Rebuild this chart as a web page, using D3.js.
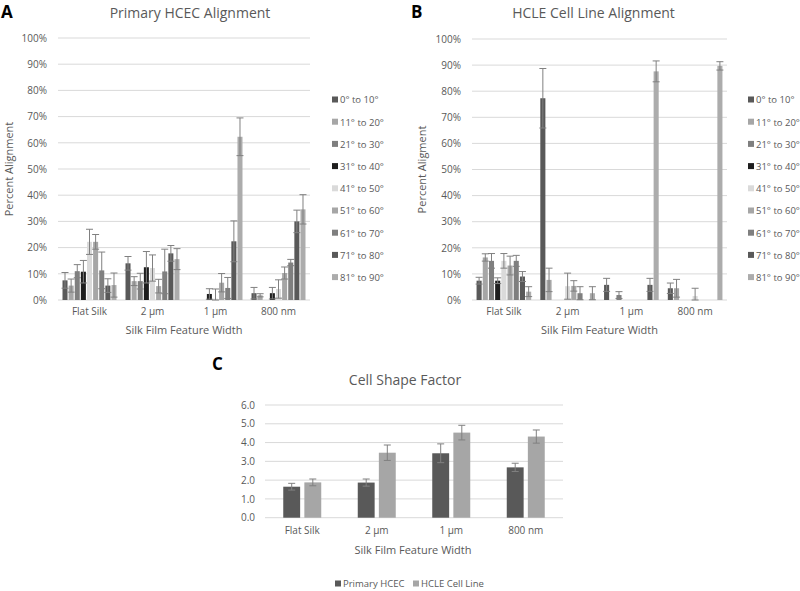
<!DOCTYPE html>
<html>
<head>
<meta charset="utf-8">
<script src="https://cdn.jsdelivr.net/npm/d3@7"></script>
<style>
  body { margin: 0; background: #fff; }
  text { font-family: "Open Sans", "Noto Sans", sans-serif; }
</style>
</head>
<body>
<div id="chart"></div>
<script>
// DATA
const categories = ["Flat Silk", "2 µm", "1 µm", "800 nm"];
const angleSeries = ["0° to 10°", "11° to 20°", "21° to 30°", "31° to 40°", "41° to 50°",
  "51° to 60°", "61° to 70°", "71° to 80°", "81° to 90°"];
const angleColors = ["#595959", "#a6a6a6", "#7f7f7f", "#1e1e1e", "#dadada",
  "#a6a6a6", "#7f7f7f", "#595959", "#acacac"];
const pctTicks = [0, 10, 20, 30, 40, 50, 60, 70, 80, 90, 100];

// primary HCEC, percent per category (rows) and angle bin (cols)
const hcecMeans = [
  [7.5, 5.5, 11, 10.8, 22.2, 22.2, 11.3, 5.5, 5.7],
  [14, 7.2, 7.2, 12.5, 12.2, 5.3, 10.9, 17.8, 15.6],
  [0, 0, 0, 2.3, 0.5, 6.6, 4.6, 22.4, 62.3],
  [2.6, 1.8, 0, 2.6, 4.2, 10.3, 14.3, 30, 34.6]
];
const hcecErr = [
  [3, 2.5, 2.5, 4.3, 4.8, 2.8, 7, 2.6, 4.6],
  [2.6, 1.7, 3, 6, 5, 2.6, 8.5, 3, 4],
  [0, 0, 0, 2, 3.7, 3.5, 4, 7.8, 7.2],
  [2.2, 0.6, 0, 2.2, 3.5, 2.3, 1.2, 4.3, 5.6]
];

// HCLE cell line
const hcleMeans = [
  [7.4, 16.3, 15, 7.4, 15, 13.2, 15, 9, 3.2],
  [77.3, 7.7, 0, 0, 5.3, 5.4, 2.6, 0, 2.6],
  [5.8, 0, 1.9, 0, 0, 0, 0, 5.8, 87.6],
  [4.5, 4.5, 0, 0, 1.5, 0, 0, 0, 89.7]
];
const hcleErr = [
  [1.3, 1.4, 2.8, 1.1, 2.8, 3.6, 2.1, 1.9, 1.9],
  [11.4, 4.5, 0, 0, 5, 2, 2.5, 0, 2.5],
  [2.5, 0, 1.3, 0, 0, 0, 0, 2.5, 4],
  [2, 3.4, 0, 0, 3, 0, 0, 0, 1.6]
];

// cell shape factor
const shapeSeries = ["Primary HCEC", "HCLE Cell Line"];
const shapeColors = ["#595959", "#a6a6a6"];
const shapeTicks = [0, 1, 2, 3, 4, 5, 6];
const hcecShape = [1.65, 1.87, 3.43, 2.68];
const hcecShapeErr = [0.18, 0.19, 0.5, 0.22];
const hcleShape = [1.88, 3.46, 4.53, 4.32];
const hcleShapeErr = [0.18, 0.41, 0.39, 0.35];

const textCol = "#595959";
const gridCol = "#d9d9d9";
const errCol = "#808080";

const svg = d3.select("#chart").append("svg")
  .attr("width", 800).attr("height", 591);

// ALIGNMENT PANEL
function drawAlign(o) {
  const g = svg.append("g");
  const x = d3.scaleBand().domain(categories).range([o.left, o.right])
    .paddingInner(0.143).paddingOuter(0.0715);
  const xi = d3.scaleBand().domain(d3.range(angleSeries.length))
    .range([0, x.bandwidth()]).paddingInner(0.18);
  const y = d3.scaleLinear().domain([0, 100]).range([o.bottom, o.top]);

  // gridlines
  g.selectAll(".grid").data(pctTicks).join("line")
    .attr("x1", o.left).attr("x2", o.right)
    .attr("y1", d => y(d)).attr("y2", d => y(d))
    .attr("stroke", gridCol).attr("stroke-width", 1);

  // y axis
  const ya = g.append("g").attr("transform", `translate(${o.left},0)`)
    .call(d3.axisLeft(y).tickValues(pctTicks).tickFormat(d => d + "%").tickSize(0).tickPadding(11));
  ya.select(".domain").remove();
  ya.selectAll("text").attr("fill", textCol).style("font-size", "10px");

  // x axis
  const xa = g.append("g").attr("transform", `translate(0,${o.bottom})`)
    .call(d3.axisBottom(x).tickSize(0).tickPadding(8));
  xa.select(".domain").remove();
  xa.selectAll("text").attr("fill", textCol).style("font-size", "10px");

  // bars
  o.means.forEach((row, ci) => {
    const grp = g.append("g").attr("transform", `translate(${x(categories[ci])},0)`);
    row.forEach((v, si) => {
      if (v <= 0) return;
      grp.append("rect")
        .attr("x", xi(si)).attr("width", xi.bandwidth())
        .attr("y", y(v)).attr("height", y(0) - y(v))
        .attr("fill", angleColors[si]);
    });
    row.forEach((v, si) => {
      const e = o.err[ci][si];
      if (e <= 0) return;
      const cx = xi(si) + xi.bandwidth() / 2;
      const hw = 3.5;
      const lo = Math.max(0, v - e), hi = v + e;
      grp.append("line").attr("x1", cx).attr("x2", cx)
        .attr("y1", y(lo)).attr("y2", y(hi)).attr("stroke", errCol);
      [lo, hi].forEach(t => grp.append("line")
        .attr("x1", cx - hw).attr("x2", cx + hw)
        .attr("y1", y(t)).attr("y2", y(t)).attr("stroke", errCol));
    });
  });

  // titles
  g.append("text").attr("x", (o.left + o.right) / 2 + o.titleDx).attr("y", 18)
    .attr("text-anchor", "middle").attr("fill", textCol).style("font-size", "14px").text(o.title);
  g.append("text").attr("x", o.letterX).attr("y", 18)
    .style("font-size", "17px").style("font-weight", "bold").attr("fill", "#000").text(o.letter);
  g.append("text").attr("transform", `translate(${o.yTitleX},${(o.top + o.bottom) / 2}) rotate(-90)`)
    .attr("text-anchor", "middle").attr("fill", textCol).style("font-size", "11px").text(o.yTitle);
  g.append("text").attr("x", (o.left + o.right) / 2).attr("y", o.bottom + 34)
    .attr("text-anchor", "middle").attr("fill", textCol).style("font-size", "11px")
    .text("Silk Film Feature Width");

  // legend
  const leg = g.append("g").attr("transform", `translate(${o.legX},100)`);
  angleSeries.forEach((s, i) => {
    const row = leg.append("g").attr("transform", `translate(0,${i * 22.2})`);
    row.append("rect").attr("x", 0).attr("y", -3.5).attr("width", 6).attr("height", 6)
      .attr("fill", angleColors[i]);
    row.append("text").attr("x", 8).attr("y", 0).attr("dy", "0.35em")
      .attr("fill", textCol).style("font-size", "9.5px").text(s);
  });
}

drawAlign({
  left: 58, right: 310, top: 38, bottom: 300,
  means: hcecMeans, err: hcecErr,
  title: "Primary HCEC Alignment", titleDx: 6, letter: "A", letterX: 1,
  yTitle: "Percent Alignment", yTitleX: 13, legX: 332
});
drawAlign({
  left: 472, right: 727, top: 39, bottom: 300,
  means: hcleMeans, err: hcleErr,
  title: "HCLE Cell Line Alignment", titleDx: -6, letter: "B", letterX: 411,
  yTitle: "Percent Aligment", yTitleX: 426, legX: 748
});

// SHAPE FACTOR PANEL
(function () {
  const left = 265, right = 563, top = 405, bottom = 517.7;
  const g = svg.append("g");
  const x = d3.scaleBand().domain(categories).range([left, right])
    .paddingInner(0.49).paddingOuter(0.245);
  const xi = d3.scaleBand().domain(d3.range(2)).range([0, x.bandwidth()]).paddingInner(0.2);
  const y = d3.scaleLinear().domain([0, 6]).range([bottom, top]);

  g.selectAll(".grid").data(shapeTicks).join("line")
    .attr("x1", left).attr("x2", right)
    .attr("y1", d => y(d)).attr("y2", d => y(d))
    .attr("stroke", gridCol);

  const ya = g.append("g").attr("transform", `translate(${left},0)`)
    .call(d3.axisLeft(y).tickValues(shapeTicks).tickFormat(d3.format(".1f")).tickSize(0).tickPadding(10));
  ya.select(".domain").remove();
  ya.selectAll("text").attr("fill", textCol).style("font-size", "10px");

  const xa = g.append("g").attr("transform", `translate(0,${bottom})`)
    .call(d3.axisBottom(x).tickSize(0).tickPadding(9));
  xa.select(".domain").remove();
  xa.selectAll("text").attr("fill", textCol).style("font-size", "10px");

  const sets = [[hcecShape, hcecShapeErr], [hcleShape, hcleShapeErr]];
  sets.forEach(([vals, errs], si) => {
    vals.forEach((v, ci) => {
      const bx = x(categories[ci]) + xi(si);
      g.append("rect").attr("x", bx).attr("width", xi.bandwidth())
        .attr("y", y(v)).attr("height", y(0) - y(v)).attr("fill", shapeColors[si]);
      const cx = bx + xi.bandwidth() / 2, e = errs[ci];
      g.append("line").attr("x1", cx).attr("x2", cx)
        .attr("y1", y(v - e)).attr("y2", y(v + e)).attr("stroke", errCol);
      [v - e, v + e].forEach(t => g.append("line")
        .attr("x1", cx - 3.5).attr("x2", cx + 3.5)
        .attr("y1", y(t)).attr("y2", y(t)).attr("stroke", errCol));
    });
  });

  g.append("text").attr("x", 405).attr("y", 385).attr("text-anchor", "middle")
    .attr("fill", textCol).style("font-size", "14px").text("Cell Shape Factor");
  g.append("text").attr("x", 212).attr("y", 370)
    .style("font-size", "17px").style("font-weight", "bold").attr("fill", "#000").text("C");
  g.append("text").attr("x", 413).attr("y", 554).attr("text-anchor", "middle")
    .attr("fill", textCol).style("font-size", "11px").text("Silk Film Feature Width");

  const legX = [335, 413];
  shapeSeries.forEach((s, i) => {
    const row = g.append("g").attr("transform", `translate(${legX[i]},584)`);
    row.append("rect").attr("x", 0).attr("y", -3.5).attr("width", 6).attr("height", 6)
      .attr("fill", shapeColors[i]);
    row.append("text").attr("x", 8).attr("y", 0).attr("dy", "0.35em")
      .attr("fill", textCol).style("font-size", "9.5px").text(s);
  });
})();
</script>
</body>
</html>
